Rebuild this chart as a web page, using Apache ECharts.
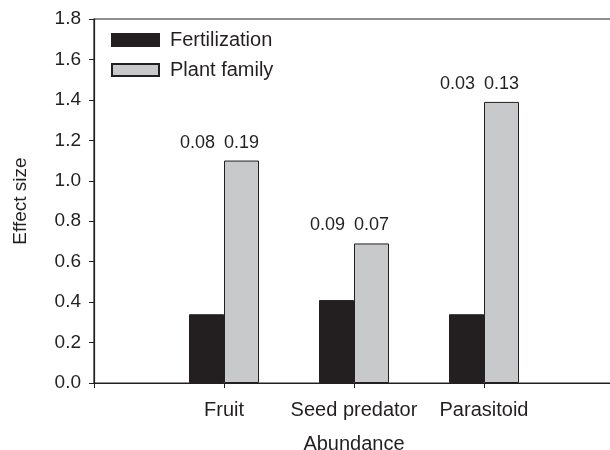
<!DOCTYPE html>
<html>
<head>
<meta charset="utf-8">
<script src="https://cdn.jsdelivr.net/npm/echarts@6/dist/echarts.min.js"></script>
<style>html,body{margin:0;padding:0;background:#fff;}#c{width:610px;height:450px;}</style>
</head>
<body>
<div id="c"></div>
<script>
const categories = ['Fruit', 'Seed predator', 'Parasitoid'];
const fertilization = [0.34, 0.41, 0.34];
const plantFamily = [1.10, 0.69, 1.39];
const fertLabels = ['0.08', '0.09', '0.03'];
const familyLabels = ['0.19', '0.07', '0.13'];
const yTicks = [0, 0.2, 0.4, 0.6, 0.8, 1.0, 1.2, 1.4, 1.6, 1.8];

const ink = '#231f20';
const font = 'Liberation Sans, Arial, Helvetica, sans-serif';
const axisCats = [''].concat(categories, ['']);
const pad = arr => ['-'].concat(arr, ['-']);

const chart = echarts.init(document.getElementById('c'), null, {renderer: 'canvas'});
chart.setOption({
  animation: false,
  backgroundColor: '#fff',
  textStyle: {fontFamily: font, color: ink},
  grid: {left: 94, top: 19, width: 520, height: 364, show: true, borderColor: ink, borderWidth: 1.2, containLabel: false, outerBoundsMode: 'none'},
  legend: {
    orient: 'vertical', left: 106, top: 25, padding: 5,
    itemWidth: 47, itemHeight: 12, itemGap: 10, icon: 'rect',
    textStyle: {fontSize: 20, color: ink, fontFamily: font, lineHeight: 20, padding: [0, 0, 0, 6]},
    data: ['Fertilization', 'Plant family']
  },
  xAxis: {
    type: 'category', data: axisCats, boundaryGap: false,
    name: 'Abundance', nameLocation: 'middle', nameGap: 51,
    nameTextStyle: {fontSize: 20, color: ink, fontFamily: font},
    axisLine: {lineStyle: {color: ink, width: 1.2}},
    axisTick: {show: true, length: 5, inside: false, interval: 0, lineStyle: {color: ink}},
    axisLabel: {interval: 0, margin: 17, fontSize: 20, color: ink, fontFamily: font},
    splitLine: {show: false}
  },
  yAxis: {
    type: 'value', min: yTicks[0], max: yTicks[yTicks.length - 1], interval: 0.2,
    name: 'Effect size', nameLocation: 'middle', nameGap: 64, nameRotate: 90,
    nameTextStyle: {fontSize: 19, color: ink, fontFamily: font},
    axisLine: {show: true, lineStyle: {color: ink, width: 1.2}},
    axisTick: {show: true, length: 5, inside: false, lineStyle: {color: ink}},
    axisLabel: {margin: 13, fontSize: 19, color: ink, fontFamily: font, formatter: v => v.toFixed(1)},
    splitLine: {show: false}
  },
  series: [
    {
      name: 'Fertilization', type: 'bar', data: pad(fertilization),
      barWidth: 35, barGap: '0%',
      itemStyle: {color: ink, borderColor: ink, borderWidth: 1}
    },
    {
      name: 'Plant family', type: 'bar', data: pad(plantFamily),
      barWidth: 35, barGap: '0%',
      itemStyle: {color: '#c8c9cb', borderColor: ink, borderWidth: 1},
      label: {
        show: true, position: 'top', distance: 9, offset: [-22, 0],
        fontSize: 18, color: ink, fontFamily: font,
        formatter: p => {
          const i = p.dataIndex - 1;
          return '{a|' + fertLabels[i] + '}{b|' + familyLabels[i] + '}';
        },
        rich: {
          a: {fontSize: 18, color: ink, fontFamily: font, padding: [0, 9, 0, 0]},
          b: {fontSize: 18, color: ink, fontFamily: font}
        }
      }
    }
  ]
});
</script>
</body>
</html>
